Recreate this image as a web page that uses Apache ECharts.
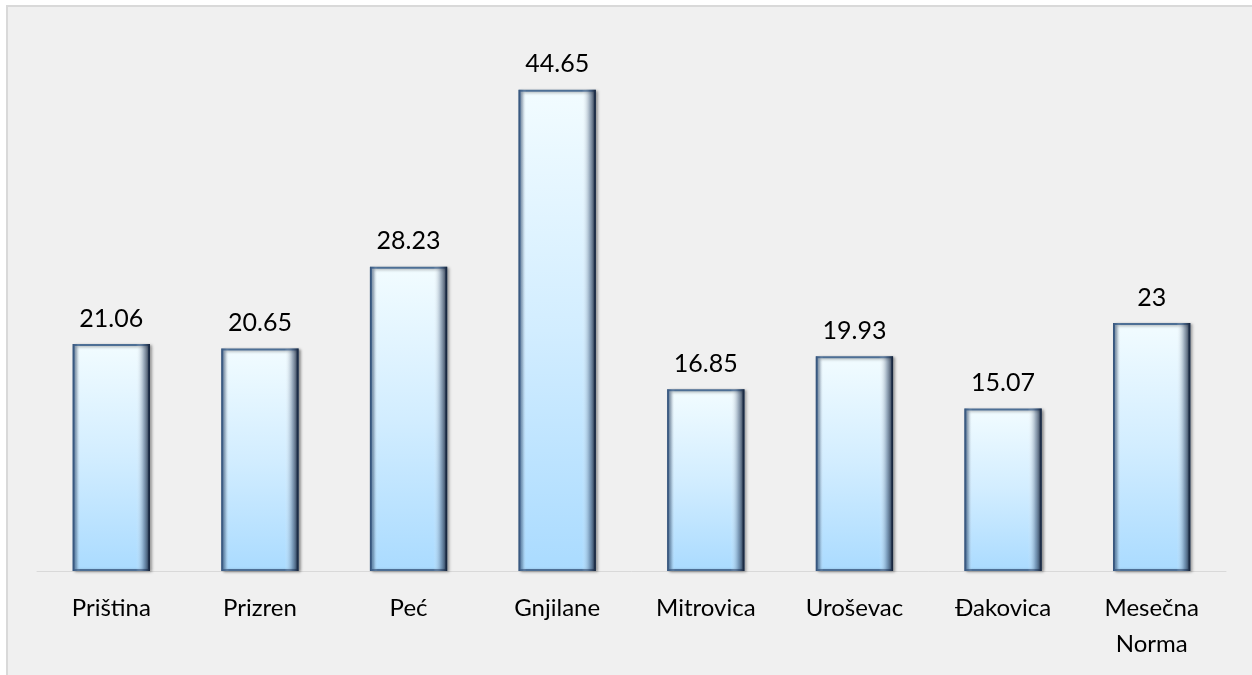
<!DOCTYPE html>
<html><head><meta charset="utf-8">
<script src="https://cdn.jsdelivr.net/npm/echarts@6/dist/echarts.min.js"></script>
<style>
html,body{margin:0;padding:0;background:#fff;}
#bg{position:absolute;left:6px;top:5px;width:1246px;height:670px;background:#f0f0f0;border-left:2px solid #d9d9d9;border-top:2px solid #d9d9d9;box-sizing:border-box;}
#c{position:absolute;left:0;top:0;width:1252px;height:675px;}
</style></head>
<body><div id="bg"></div><div id="c"></div>
<script>
const categories = ['Priština','Prizren','Peć','Gnjilane','Mitrovica','Uroševac','Đakovica','Mesečna\nNorma'];
const values = [21.06, 20.65, 28.23, 44.65, 16.85, 19.93, 15.07, 23];

const chart = echarts.init(document.getElementById('c'), null, {renderer:'canvas'});
const font = 'Lato, "Open Sans", "DejaVu Sans", sans-serif';
chart.setOption({
  backgroundColor: 'transparent',
  animation: false,
  grid: {left: 37, right: 26, top: 32, bottom: 104},
  xAxis: {
    type: 'category', data: categories,
    axisLine: {show: true, lineStyle: {color: '#d9d9d9', width: 1}},
    axisTick: {show: false},
    axisLabel: {color: '#000', fontSize: 24, fontFamily: font, margin: 19, lineHeight: 36, interval: 0}
  },
  yAxis: {type: 'value', min: 0, max: 50, show: false, splitLine: {show: false}},
  series: [
    {
      type: 'bar', data: values, barWidth: '52%',
      itemStyle: {
        color: new echarts.graphic.LinearGradient(0,0,0,1,[
          {offset:0, color:'#f2fcff'},
          {offset:0.5, color:'#d2edff'},
          {offset:1, color:'#aadbff'}
        ]),
        borderColor: '#4d6f95', borderWidth: 2,
        shadowColor: 'rgba(0,0,0,0.35)', shadowBlur: 3, shadowOffsetX: 2, shadowOffsetY: 1
      },
      label: {show: true, position: 'top', distance: 13, color: '#000', fontSize: 25, fontFamily: font,
        formatter: p => String(values[p.dataIndex])}
    },
    {
      type: 'bar', data: values, barWidth: '52%', barGap: '-100%', silent: true,
      itemStyle: {
        color: new echarts.graphic.LinearGradient(0,0,1,0,[
          {offset:0, color:'rgba(40,70,110,0.75)'},
          {offset:0.05, color:'rgba(70,100,140,0.25)'},
          {offset:0.1, color:'rgba(255,255,255,0)'},
          {offset:0.82, color:'rgba(255,255,255,0)'},
          {offset:0.92, color:'rgba(60,80,110,0.45)'},
          {offset:1, color:'rgba(10,20,40,0.9)'}
        ])
      }
    }
  ]
});
</script></body></html>
